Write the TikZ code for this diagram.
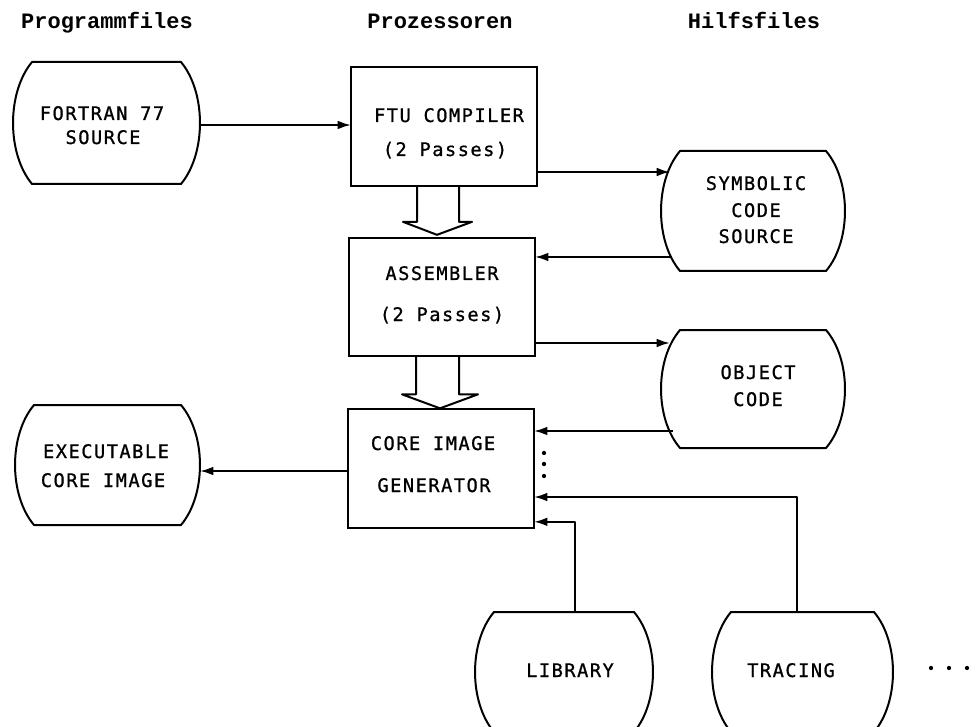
\documentclass[tikz,border=0pt]{standalone}
\usepackage{fontspec}
\usetikzlibrary{arrows.meta}
\newfontfamily\boxfont[LetterSpace=8, FakeBold=0.9]{DejaVu Sans Mono}
\newfontfamily\headfont{Liberation Mono}
% file shape: name, left bulge x, right bulge x, top y, bottom y
\newcommand{\filesym}[5]{%
  \draw[ln] ({#2+19},#4) -- ({#3-19},#4)
    .. controls ({#3+6.3},{#4+(#5-#4)*0.25}) and ({#3+6.3},{#4+(#5-#4)*0.75}) .. ({#3-19},#5)
    -- ({#2+19},#5)
    .. controls ({#2-6.3},{#4+(#5-#4)*0.75}) and ({#2-6.3},{#4+(#5-#4)*0.25}) .. ({#2+19},#4) -- cycle;
  \node[inner sep=0, outer sep=0, minimum width={(#3-#2)*0.75pt}, minimum height={(#5-#4)*0.75pt}]
    (#1) at ({(#2+#3)/2},{(#4+#5)/2}) {};}
\begin{document}
\begin{tikzpicture}[x=0.75pt,y=-0.75pt,
  ln/.style={line width=1.5pt, line join=round},
  arr/.style={ln, -{Latex[length=10pt,width=6.5pt]}},
  proc/.style={draw, line width=1.5pt, rectangle, inner sep=0, outer sep=0,
               minimum width=139.5pt, minimum height=89pt},
  txt/.style={font=\boxfont\fontsize{14}{16}\selectfont, inner sep=0, anchor=base},
  head/.style={font=\headfont\bfseries\fontsize{16.5}{18}\selectfont, inner sep=0, anchor=base}]
\useasboundingbox (0,0) rectangle (978,727);
\begin{scope}
\clip (0,0) rectangle (978,727);

% headings
\node[head] (h1) at (107,29) {Programmfiles};
\node[head] (h2) at (440,29) {Prozessoren};
\node[head] (h3) at (754,29) {Hilfsfiles};

% processors
\node[proc] (ftu)  at (444,126.5) {};
\node[proc] (asm)  at (442,297) {};
\node[proc] (core) at (441,468.5) {};
\node[txt] (ftu1) at (449,122) {FTU COMPILER};
\node[txt] (ftu2) at (445,156) {(2 Passes)};
\node[txt] (asm1) at (442,280) {ASSEMBLER};
\node[txt] (asm2) at (442,321) {(2 Passes)};
\node[txt] (core1) at (433,450) {CORE IMAGE};
\node[txt] (core2) at (434,492) {GENERATOR};

% files
\filesym{fortran}{13}{200}{62}{184}
\node[txt] (fo1) at (102,120) {FORTRAN 77};
\node[txt] (fo2) at (103,144) {SOURCE};
\filesym{exec}{15}{200}{405}{525}
\node[txt] (ex1) at (106,458) {EXECUTABLE};
\node[txt] (ex2) at (103,487) {CORE IMAGE};
\filesym{sym}{661}{845}{151}{271}
\node[txt] (sy1) at (756,190) {SYMBOLIC};
\node[txt] (sy2) at (756,217) {CODE};
\node[txt] (sy3) at (756,243) {SOURCE};
\filesym{obj}{661}{845}{330}{448}
\node[txt] (ob1) at (758,379) {OBJECT};
\node[txt] (ob2) at (758,406) {CODE};
\filesym{lib}{475}{653}{612}{732}
\node[txt] (li1) at (570,677) {LIBRARY};
\filesym{tra}{712}{893}{612}{732}
\node[txt] (tr1) at (791,677) {TRACING};

% connector end points on the curved file sides
\coordinate (sym-in)  at (670,172);
\coordinate (sym-out) at (672,257);
\coordinate (obj-in)  at (670,343);
\coordinate (obj-out) at (673,431);
\coordinate (exec-in) at (200,471);
\coordinate (fo-out)  at (200,125);
\coordinate (lib-top) at (575,612);
\coordinate (tra-top) at (797,612);

% connectors
\draw[arr] (fo-out) -- (ftu.west |- fo-out);
\draw[arr] (ftu.east |- sym-in) -- (sym-in);
\draw[arr] (sym-out) -- (asm.east |- sym-out);
\draw[arr] (asm.east |- obj-in) -- (obj-in);
\draw[arr] (obj-out) -- (core.east |- obj-out);
\draw[arr] (core.west |- exec-in) -- (exec-in);
\draw[arr] (tra-top) |- ([yshift=-21.4pt]core.east);
\draw[arr] (lib-top) |- ([yshift=4.5pt]core.south east);

% block arrows
\draw[ln] ([xshift=-20.25pt]ftu.south) -- ++(0,36) -- ++(-14,0) -- ++(34,13)
  -- ++(35,-13) -- ++(-13,0) -- ++(0,-36);
\draw[ln] ([xshift=-19.5pt]asm.south) -- ++(0,38) -- ++(-14,0) -- ++(38,14)
  -- ++(38,-14) -- ++(-19,0) -- ++(0,-38);

% dots
\foreach \yy in {453,464,476} \fill (544,\yy) circle[radius=1.6pt];
\foreach \xx in {931,949,967} \fill (\xx,668) circle[radius=1.6pt];
\end{scope}
\end{tikzpicture}
\end{document}
